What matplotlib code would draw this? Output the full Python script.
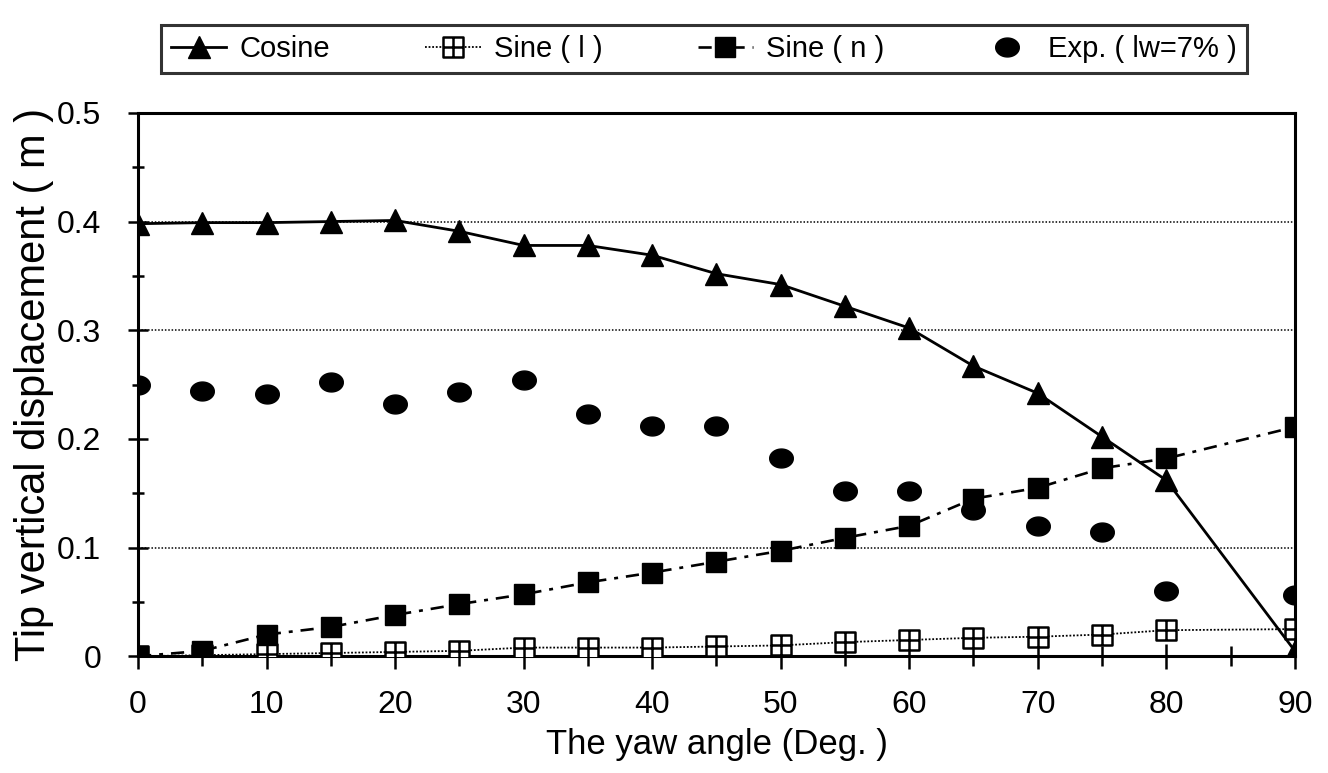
import numpy as np
import matplotlib
matplotlib.use("Agg")
import matplotlib.pyplot as plt
from matplotlib.path import Path
from matplotlib.ticker import MultipleLocator

plt.rcParams['font.family'] = ['Liberation Sans', 'DejaVu Sans']

# yaw angle (deg) and tip vertical displacement (m)
angles = [0, 5, 10, 15, 20, 25, 30, 35, 40, 45, 50, 55, 60, 65, 70, 75, 80, 90]
cosine = [0.398, 0.399, 0.399, 0.400, 0.401, 0.391, 0.378, 0.378, 0.369, 0.352,
          0.342, 0.322, 0.302, 0.267, 0.242, 0.202, 0.162, 0.005]
sine_l = [0.0, 0.001, 0.002, 0.003, 0.004, 0.005, 0.008, 0.008, 0.008, 0.009,
          0.010, 0.013, 0.015, 0.017, 0.018, 0.020, 0.024, 0.025]
sine_n = [0.0, 0.005, 0.020, 0.027, 0.038, 0.048, 0.057, 0.068, 0.077, 0.087,
          0.097, 0.109, 0.120, 0.145, 0.155, 0.173, 0.182, 0.211]
exp_vals = [0.250, 0.244, 0.241, 0.252, 0.232, 0.243, 0.254, 0.223, 0.212, 0.212,
            0.182, 0.152, 0.152, 0.135, 0.120, 0.114, 0.060, 0.056]

labels = ['Cosine', 'Sine ( l )', 'Sine ( n )', 'Exp. ( lw=7% )']
x_ticks = [0, 10, 20, 30, 40, 50, 60, 70, 80, 90]
y_ticks = [0, 0.1, 0.2, 0.3, 0.4, 0.5]
y_tick_labels = ['0', '0.1', '0.2', '0.3', '0.4', '0.5']
grid_levels = [0.1, 0.3, 0.4]

# square with a cross in it (open marker for Sine (l))
box_cross = Path([(-1, -1), (1, -1), (1, 1), (-1, 1), (-1, -1),
                  (0, -1), (0, 1), (-1, 0), (1, 0)],
                 [Path.MOVETO, Path.LINETO, Path.LINETO, Path.LINETO, Path.CLOSEPOLY,
                  Path.MOVETO, Path.LINETO, Path.MOVETO, Path.LINETO])

# slightly flattened dot for the experiment points
t = np.linspace(0, 2 * np.pi, 60)
flat_dot = Path(np.column_stack([np.cos(t), 0.8 * np.sin(t)]))

fig = plt.figure(figsize=(13.28, 7.73), dpi=100)
ax = fig.add_axes([0.104, 0.151, 0.871, 0.703])

for lv in grid_levels:
    ax.axhline(lv, color='black', ls=(0, (1, 1.2)), lw=1.1, zorder=1)

ax.plot(angles, cosine, color='black', lw=2.0, marker='^', ms=16,
        mfc='black', mec='black', label=labels[0], zorder=4)
ax.plot(angles, sine_l, color='black', ls=(0, (1, 1)), lw=1.3, marker=box_cross,
        ms=15, mfc='white', mec='black', mew=1.8, label=labels[1], zorder=3)
ax.plot(angles, sine_n, color='black', ls=(0, (5, 3, 1.5, 3)), lw=1.9, marker='s',
        ms=15, mfc='black', mec='black', label=labels[2], zorder=3)
ax.plot(angles, exp_vals, ls='none', marker=flat_dot, ms=17, mfc='black',
        mec='black', label=labels[3], zorder=2)

ax.set_xlim(0, 90)
ax.set_ylim(0, 0.5)
ax.set_xticks(x_ticks)
ax.set_yticks(y_ticks)
ax.set_yticklabels(y_tick_labels)
ax.xaxis.set_minor_locator(MultipleLocator(5))
ax.yaxis.set_minor_locator(MultipleLocator(0.05))

ax.tick_params(axis='x', which='major', direction='inout', length=18, width=1.8,
               labelsize=23, pad=15)
ax.tick_params(axis='x', which='minor', direction='inout', length=14, width=1.8)
ax.tick_params(axis='y', which='major', direction='inout', length=15, width=1.8,
               labelsize=23, pad=19)
ax.tick_params(axis='y', which='minor', direction='inout', length=9, width=1.8)

for sp in ax.spines.values():
    sp.set_linewidth(2.2)
    sp.set_color('black')

ax.set_xlabel('The yaw angle (Deg. )', fontsize=25, labelpad=6)
ax.set_ylabel('Tip vertical displacement ( m )', fontsize=30, labelpad=2)

leg = fig.legend(loc='lower left', bbox_to_anchor=(0.121, 0.905, 0.818, 0.071),
                 mode='expand', ncol=4, fontsize=21, frameon=True, fancybox=False,
                 handlelength=1.9, handletextpad=0.45, borderaxespad=0,
                 borderpad=0.35, columnspacing=1.0)
leg.get_frame().set_edgecolor('black')
leg.get_frame().set_linewidth(2.2)

fig.savefig('out.png', dpi=100, facecolor='white')
